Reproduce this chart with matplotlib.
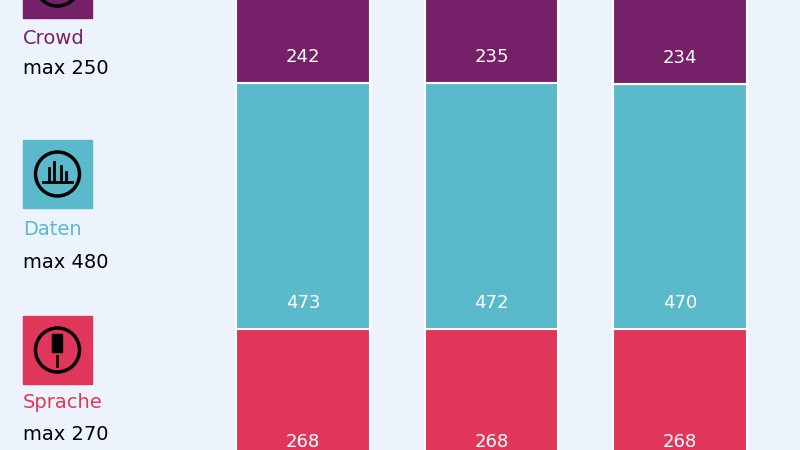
import matplotlib.pyplot as plt
from matplotlib.patches import Rectangle, Circle

# data
groups = ['A', 'B', 'C']
sprache = [268, 268, 268]
daten = [473, 472, 470]
crowd = [242, 235, 234]
series = [('Sprache', sprache, '#e0365a', 270),
          ('Daten', daten, '#5bb9cc', 480),
          ('Crowd', crowd, '#76206a', 250)]

bg = '#edf3fc'
fig = plt.figure(figsize=(8, 4.5), dpi=100, facecolor=bg)
ax = fig.add_axes([0, 0, 1, 1])
ax.set_facecolor(bg)

x = list(range(len(groups)))
bottom = [0] * len(groups)
for name, vals, col, mx in series:
    ax.bar(x, vals, bottom=bottom, width=0.71, color=col,
           edgecolor='white', linewidth=1.5)
    for xi, b, v in zip(x, bottom, vals):
        ax.text(xi, b + 50, str(v), ha='center', va='center',
                color='white', fontsize=13)
    bottom = [b + v for b, v in zip(bottom, vals)]

ax.set_xlim(-1.607, 2.637)
ax.set_ylim(35, 900)
ax.axis('off')

# left legend: icon + name + max (figure pixel layout)
def fy(py):
    return 1 - py / 450

legend = [('Crowd', '#76206a', 250, -50, 38, 68),
          ('Daten', '#5bb9cc', 480, 140, 230, 262),
          ('Sprache', '#e0365a', 270, 316, 403, 434)]
for name, col, mx, top, ny, my in legend:
    fig.patches.append(Rectangle((23 / 800, fy(top + 68)), 69 / 800, 68 / 450,
                                 transform=fig.transFigure, color=col))
    cx, cy = 57.5 / 800, fy(top + 34)
    fig.patches.append(Rectangle((cx - 0.0, cy), 0, 0, transform=fig.transFigure))
    circ = Circle((57.5, 450 - (top + 34)), 22, fill=False, lw=2.5,
                  ec='black', transform=None)
    fig.text(23 / 800, fy(ny), name, color=col, fontsize=14, va='center')
    fig.text(23 / 800, fy(my), 'max %d' % mx, color='black', fontsize=14,
             va='center')
    e = Circle((cx * 800, (1 - fy(0) + fy(top + 34)) * 450), 1)
    from matplotlib.patches import Ellipse
    fig.patches.append(Ellipse((cx, cy), 44 / 800, 44 / 450, fill=False,
                               lw=2.5, ec='black', transform=fig.transFigure))
    if name == 'Daten':
        for dx, h in [(-9, 14), (-3, 20), (3, 16), (9, 10)]:
            fig.lines.append(plt.Line2D([cx + dx / 800] * 2,
                                        [cy - 8 / 450, cy - 8 / 450 + h / 450],
                                        color='black', lw=2,
                                        transform=fig.transFigure))
        fig.lines.append(plt.Line2D([cx - 14 / 800, cx + 14 / 800],
                                    [cy - 8 / 450] * 2, color='black', lw=2,
                                    transform=fig.transFigure))
    elif name == 'Sprache':
        fig.patches.append(Rectangle((cx - 5 / 800, cy - 2 / 450), 10 / 800,
                                     18 / 450, color='black',
                                     transform=fig.transFigure))
        fig.lines.append(plt.Line2D([cx, cx], [cy - 16 / 450, cy - 6 / 450],
                                    color='black', lw=2,
                                    transform=fig.transFigure))
    else:
        fig.lines.append(plt.Line2D([cx, cx], [cy - 4 / 450, cy + 12 / 450],
                                    color='black', lw=3,
                                    transform=fig.transFigure))

fig.savefig('out.png', dpi=100, facecolor=bg)
